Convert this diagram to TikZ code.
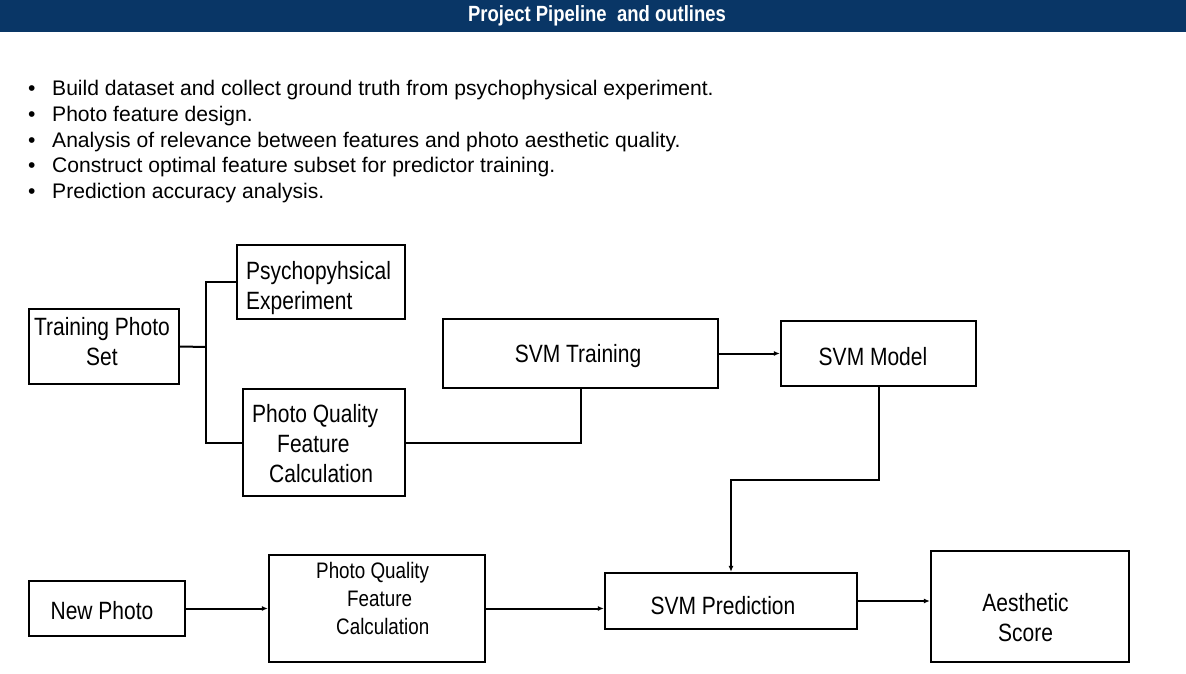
\documentclass[tikz,border=0pt]{standalone}
\usepackage{fontspec}
\setmainfont{Liberation Sans}
\newfontfamily\narrowsans[FakeStretch=0.84]{Liberation Sans}
\usetikzlibrary{arrows.meta}
\definecolor{titlebar}{RGB}{9,54,102}
\tikzset{
  box/.style={draw=black, line width=2.2pt, inner sep=0pt},
  boxtext/.style={inner sep=0pt, align=center, font=\narrowsans\fontsize{25}{30}\selectfont},
  lefttext/.style={boxtext, align=left, anchor=west},
  smalltext/.style={inner sep=0pt, align=left, anchor=west, font=\narrowsans\fontsize{22.4}{28}\selectfont},
  conn/.style={draw=black, line width=2pt},
  arr/.style={conn, -{Latex[length=6pt,width=5pt]}},
  bullet/.style={anchor=base west, inner sep=0pt, font=\fontsize{21.1}{25}\selectfont},
  heading/.style={text=white, inner sep=0pt, font=\narrowsans\bfseries\fontsize{22}{24}\selectfont}
}
\begin{document}
\begin{tikzpicture}[x=1pt,y=-1pt]
\useasboundingbox (0,0) rectangle (1186,674);
\fill[white] (0,0) rectangle (1186,674);

% title bar
\fill[titlebar] (0,0) rectangle (1186,32);
\node[heading] (title) at (597,16) {Project Pipeline\ \ and outlines};

% outline list
\node[bullet] (b1) at (28,96) {\makebox[24pt][l]{\textbullet}Build dataset and collect ground truth from psychophysical experiment.};
\node[bullet] (b2) at (28,122) {\makebox[24pt][l]{\textbullet}Photo feature design.};
\node[bullet] (b3) at (28,147) {\makebox[24pt][l]{\textbullet}Analysis of relevance between features and photo aesthetic quality.};
\node[bullet] (b4) at (28,172) {\makebox[24pt][l]{\textbullet}Construct optimal feature subset for predictor training.};
\node[bullet] (b5) at (28,198) {\makebox[24pt][l]{\textbullet}Prediction accuracy analysis.};

% training branch
\node[box, minimum width=150, minimum height=75] (tps) at (104,346.5) {};
\node[boxtext] (tpstext) at (102,342) {Training Photo\\Set};
\node[box, minimum width=168, minimum height=74] (psy) at (321,282) {};
\node[lefttext] (psytext) at (246,288) {Psychopyhsical\\Experiment};
\node[box, minimum width=162, minimum height=107] (pqa) at (324,442.5) {};
\node[lefttext] (pqatext) at (252,444) {Photo Quality\\\hspace*{25pt}Feature\\\hspace*{17pt}Calculation};
\node[box, minimum width=275, minimum height=69] (svmt) at (580.5,353.5) {};
\node[boxtext] (svmttext) at (578,356) {SVM Training};
\node[box, minimum width=195, minimum height=65] (svmm) at (878.5,353.5) {};
\node[boxtext] (svmmtext) at (873,357) {SVM Model};

% prediction branch
\node[box, minimum width=156, minimum height=55] (np) at (107,608.5) {};
\node[boxtext] (nptext) at (102,611) {New Photo};
\node[box, minimum width=216, minimum height=107] (lpq) at (377,608.5) {};
\node[smalltext] (lpqtext) at (316,598) {Photo Quality\\\hspace*{31pt}Feature\\\hspace*{20pt}Calculation};
\node[box, minimum width=252, minimum height=56] (svmp) at (731,601) {};
\node[boxtext] (svmptext) at (723,606) {SVM Prediction};
\node[box, minimum width=198, minimum height=111] (aes) at (1030,606.5) {};
\node[boxtext] (aestext) at (1025.5,618) {Aesthetic\\Score};

% connectors
\coordinate (split) at (206,347);
\coordinate (bend) at (731,480);
\draw[conn] (tps.east) -- (split);
\draw[conn] (split) |- (psy.west);
\draw[conn] (split) |- (pqa.west);
\draw[conn] (pqa.east) -| (svmt.south);
\draw[arr] (svmt.east) -- (svmt.east -| svmm.west);
\draw[arr] (svmm.south) |- (bend) -- (svmp.north);
\draw[arr] (np.east) -- (lpq.west);
\draw[arr] (lpq.east) -- (lpq.east -| svmp.west);
\draw[arr] (svmp.east) -- (svmp.east -| aes.west);
\end{tikzpicture}
\end{document}
